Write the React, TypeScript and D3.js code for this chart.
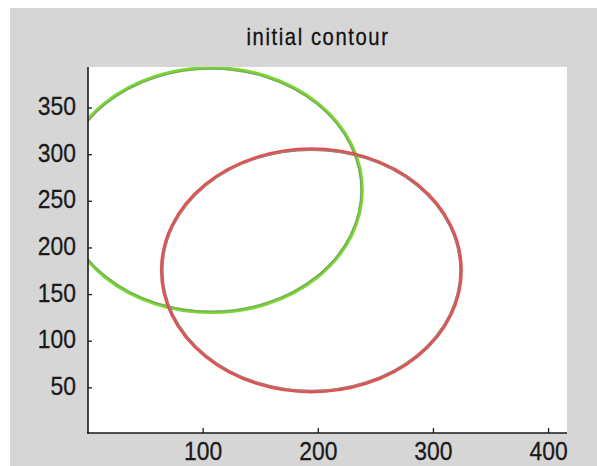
import React from 'react';
import * as d3 from 'd3';

const W = 597;
const H = 466;
const margin = { top: 67, left: 88, right: 30, bottom: 33 };

// contours: one circle per row (image coordinates)
const contourNames = ['initial', 'target'];
const centerX = [107, 194];
const centerY = [262, 176];
const radius = [131, 130];
const contourColors = ['#74d82e', '#e2514f'];

const xTicks = [100, 200, 300, 400];
const yTicks = [50, 100, 150, 200, 250, 300, 350];
const xDomain = [0, 416];
const yDomain = [0, 394];
const title = 'initial contour';

const fontFamily = '"Liberation Sans", Arial, sans-serif';

export default function App() {
  const x = d3.scaleLinear(xDomain, [margin.left, W - margin.right]);
  const y = d3.scaleLinear(yDomain, [H - margin.bottom + 1.5, margin.top]);
  const plotW = W - margin.right - margin.left;
  const plotH = H - margin.bottom - margin.top;

  const ell = (i: number, shrink: number) => {
    const cx = x(centerX[i]);
    const cy = y(centerY[i]);
    const rx = x(centerX[i] + radius[i]) - cx - shrink;
    const ry = cy - y(centerY[i] + radius[i]) - shrink;
    return { cx, cy, rx, ry };
  };

  return (
    <svg width={W} height={H} style={{ position: 'absolute', left: 0, top: 0, display: 'block' }}>
      <rect x={0} y={0} width={W} height={H} fill="#ffffff" />
      <rect x={10} y={8} width={W - 10} height={H - 8} fill="#d6d6d6" />
      <text
        transform={`translate(318,45) scale(0.88,1)`}
        textAnchor="middle"
        fontFamily={fontFamily}
        fontSize={23}
        letterSpacing={1.8}
        fill="#111"
        stroke="#111"
        strokeWidth={0.3}
      >
        {title}
      </text>
      <defs>
        <clipPath id="plot-clip">
          <rect x={margin.left} y={margin.top} width={plotW} height={plotH} />
        </clipPath>
      </defs>
      <rect x={margin.left} y={margin.top} width={plotW} height={plotH} fill="#ffffff" />
      <g clipPath="url(#plot-clip)">
        {contourNames.map((name, i) => {
          const a = ell(i, 0);
          const b = ell(i, 1);
          return (
            <g key={name}>
              <ellipse cx={a.cx} cy={a.cy} rx={a.rx} ry={a.ry} fill="none" stroke={contourColors[i]} strokeWidth={3.6} />
              <ellipse cx={b.cx} cy={b.cy} rx={b.rx} ry={b.ry} fill="none" stroke="#8a8a8a" strokeWidth={1.1} opacity={0.8} />
            </g>
          );
        })}
      </g>
      {/* axes */}
      <g stroke="#1a1a1a" strokeWidth={1.6}>
        <line x1={margin.left} x2={margin.left} y1={margin.top} y2={H - margin.bottom + 0.8} />
        <line x1={margin.left - 0.8} x2={W - margin.right} y1={H - margin.bottom} y2={H - margin.bottom} />
        {xTicks.map(t => (
          <line key={'xt' + t} x1={x(t)} x2={x(t)} y1={H - margin.bottom} y2={H - margin.bottom - 5} strokeWidth={1.3} />
        ))}
        {yTicks.map(t => (
          <line key={'yt' + t} x1={margin.left} x2={margin.left + 4} y1={y(t)} y2={y(t)} strokeWidth={1.3} />
        ))}
      </g>
      <g fontFamily={fontFamily} fontSize={26} fill="#1a1a1a" stroke="#1a1a1a" strokeWidth={0.3}>
        {xTicks.map(t => (
          <text key={'xl' + t} transform={`translate(${x(t)},${H - 6}) scale(0.88,1)`} textAnchor="middle">
            {t}
          </text>
        ))}
        {yTicks.map(t => (
          <text key={'yl' + t} transform={`translate(76,${y(t) + 7}) scale(0.88,1)`} textAnchor="end">
            {t}
          </text>
        ))}
      </g>
    </svg>
  );
}
